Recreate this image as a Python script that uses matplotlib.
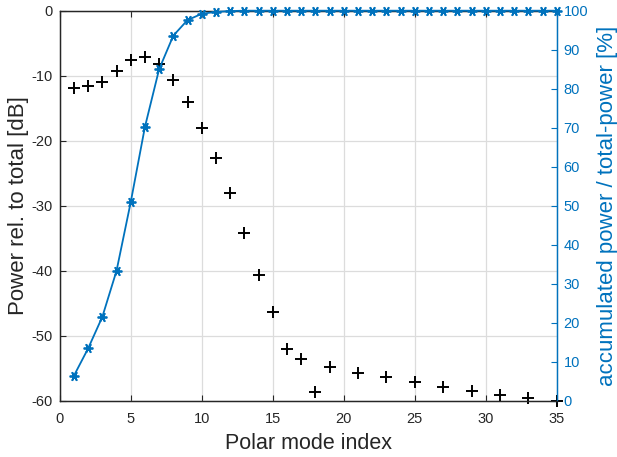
import matplotlib
matplotlib.use("Agg")
import matplotlib.pyplot as plt

plt.rcParams['font.family'] = ['Liberation Sans', 'DejaVu Sans']
plt.rcParams['axes.unicode_minus'] = False

# Relative power per polar mode (dB)
mode_db = [1, 2, 3, 4, 5, 6, 7, 8, 9, 10, 11, 12, 13, 14, 15, 16, 17, 18,
           19, 21, 23, 25, 27, 29, 31, 33, 35]
power_db = [-11.85, -11.6, -10.9, -9.3, -7.6, -7.2, -8.25, -10.7, -14.0,
            -18.0, -22.7, -28.0, -34.15, -40.6, -46.3, -52.1, -53.6, -58.7,
            -54.8, -55.7, -56.4, -57.2, -57.9, -58.5, -59.1, -59.6, -60.0]

# Accumulated power as a share of total power (%)
mode_acc = list(range(1, 36))
acc_pct = [6.4, 13.4, 21.5, 33.3, 50.9, 70.2, 85.0, 93.6, 97.6, 99.2,
           99.7, 99.9, 100, 100, 100, 100, 100, 100, 100, 100,
           100, 100, 100, 100, 100, 100, 100, 100, 100, 100,
           100, 100, 100, 100, 100]

x_ticks = [0, 5, 10, 15, 20, 25, 30, 35]
db_ticks = [-60, -50, -40, -30, -20, -10, 0]
pct_ticks = list(range(0, 101, 10))

BLUE = '#0072BD'
DARK = '#262626'

fig = plt.figure(figsize=(6.17, 4.57), dpi=100)
ax = fig.add_axes([0.0968, 0.1232, 0.8055, 0.8534])
ax2 = ax.twinx()

ax.plot(mode_db, power_db, linestyle='none', marker='+', color='black',
        markersize=8, markeredgewidth=1.4, clip_on=False, zorder=3)
ax.set_xlim(0, 35)
ax.set_ylim(-60, 0)
ax.set_xticks(x_ticks)
ax.set_yticks(db_ticks)
ax.grid(True, color='#dcdcdc', linewidth=0.9)
ax.set_axisbelow(True)
ax.set_xlabel('Polar mode index', fontsize=15.5, color=DARK, labelpad=5)
ax.set_ylabel('Power rel. to total [dB]', fontsize=16, color=DARK, labelpad=1.5)
ax.tick_params(axis='both', direction='in', length=4, labelsize=10.5,
               colors=DARK, top=True)
ax.tick_params(axis='x', pad=8)
ax.tick_params(axis='y', pad=5)

ax2.plot(mode_acc, acc_pct, linestyle='-', linewidth=1.3, color=BLUE,
         marker=(6, 2, 90), markersize=7, markeredgewidth=1.3,
         clip_on=False, zorder=4)
ax2.set_ylim(0, 100)
ax2.set_yticks(pct_ticks)
ax2.set_ylabel('accumulated power / total-power [%]', fontsize=16,
               color=BLUE, labelpad=6)
ax2.tick_params(axis='y', direction='in', length=4, labelsize=10.5,
                colors=BLUE, pad=5)

for a in (ax, ax2):
    for side in ('top', 'bottom', 'left'):
        a.spines[side].set_color(DARK)
        a.spines[side].set_linewidth(0.9)
    a.spines['right'].set_color(BLUE)
    a.spines['right'].set_linewidth(0.9)

fig.savefig('out.png', dpi=100)
